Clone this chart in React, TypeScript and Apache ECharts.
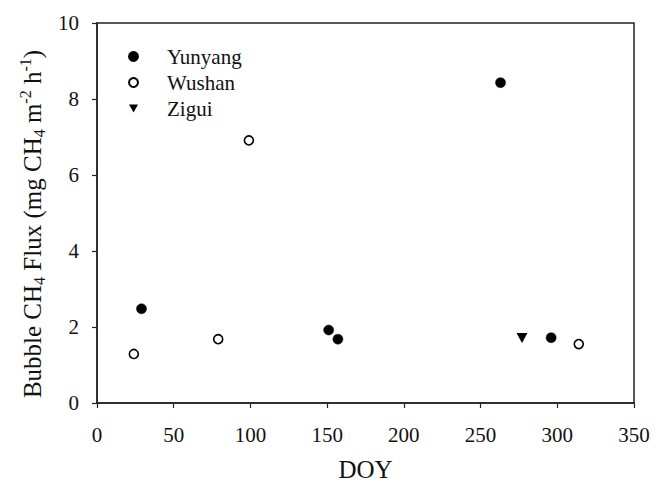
import React, { useEffect, useRef } from "react";
import * as echarts from "echarts";

const yunyangDOY = [29, 151, 157, 263, 296];
const yunyangFlux = [2.48, 1.92, 1.68, 8.43, 1.72];
const wushanDOY = [24, 79, 99, 314];
const wushanFlux = [1.29, 1.68, 6.91, 1.55];
const ziguiDOY = [277];
const ziguiFlux = [1.71];
const xTicks = [0, 50, 100, 150, 200, 250, 300, 350];
const yTicks = [0, 2, 4, 6, 8, 10];

const FONT = "'Liberation Serif', 'Times New Roman', serif";
const DOWN_TRI = "path://M0,0 L10,0 L5,9 Z";

export default function App() {
  const ref = useRef<HTMLDivElement>(null);
  useEffect(() => {
    if (!ref.current) return;
    const chart = echarts.init(ref.current, undefined, { renderer: "svg" });
    const pair = (xs: number[], ys: number[]) => xs.map((x, i) => [x, ys[i]]);
    chart.setOption({
      animation: false,
      backgroundColor: "#fff",
      grid: {
        left: 97,
        right: 29,
        top: 23,
        bottom: 78,
        show: true,
        borderColor: "#222",
        borderWidth: 1.5,
        backgroundColor: "transparent",
      },
      legend: {
        orient: "vertical",
        left: 123,
        top: 41,
        itemWidth: 9,
        itemHeight: 9,
        itemGap: 5,
        textStyle: {
          fontFamily: FONT,
          fontSize: 21,
          color: "#111",
          padding: [0, 0, 0, 24],
          lineHeight: 21,
        },
        data: ["Yunyang", "Wushan", "Zigui"],
      },
      xAxis: {
        type: "value",
        min: 0,
        max: 350,
        interval: 50,
        name: "DOY",
        nameLocation: "middle",
        nameGap: 54,
        nameTextStyle: { fontFamily: FONT, fontSize: 25, color: "#111" },
        axisLine: { show: true, lineStyle: { color: "#222", width: 1.5 } },
        axisTick: { show: true, inside: false, length: 5, lineStyle: { color: "#222", width: 1.2 } },
        axisLabel: {
          fontFamily: FONT,
          fontSize: 21,
          color: "#111",
          margin: 21,
          formatter: (v: number) => (xTicks.includes(v) ? String(v) : ""),
        },
        splitLine: { show: false },
      },
      yAxis: {
        type: "value",
        min: 0,
        max: 10,
        interval: 2,
        name:
          "{a|Bubble CH}{sub|4}{a| Flux (mg CH}{sub|4}{a| m}{sup|-2}{a| h}{sup|-1}{a|)}",
        nameLocation: "middle",
        nameGap: 49,
        nameTextStyle: {
          fontFamily: FONT,
          fontSize: 25,
          color: "#111",
          padding: [0, 22, 0, 0],
          rich: {
            a: { fontFamily: FONT, fontSize: 25, color: "#111", lineHeight: 30, verticalAlign: "middle" },
            sub: { fontFamily: FONT, fontSize: 16, color: "#111", lineHeight: 30, verticalAlign: "bottom" },
            sup: { fontFamily: FONT, fontSize: 16, color: "#111", lineHeight: 30, verticalAlign: "top" },
          },
        },
        axisLine: { show: true, lineStyle: { color: "#222", width: 1.5 } },
        axisTick: { show: true, inside: false, length: 5, lineStyle: { color: "#222", width: 1.2 } },
        axisLabel: {
          fontFamily: FONT,
          fontSize: 21,
          color: "#111",
          margin: 18,
          formatter: (v: number) => (yTicks.includes(v) ? String(v) : ""),
        },
        splitLine: { show: false },
      },
      series: [
        {
          name: "Yunyang",
          type: "scatter",
          symbol: "circle",
          symbolSize: 10,
          itemStyle: { color: "#000", borderColor: "#000", borderWidth: 0.5, opacity: 1 },
          data: pair(yunyangDOY, yunyangFlux),
        },
        {
          name: "Wushan",
          type: "scatter",
          symbol: "circle",
          symbolSize: 9,
          itemStyle: { color: "#fff", borderColor: "#000", borderWidth: 1.6, opacity: 1 },
          data: pair(wushanDOY, wushanFlux),
        },
        {
          name: "Zigui",
          type: "scatter",
          symbol: DOWN_TRI,
          symbolSize: [11, 10],
          itemStyle: { color: "#000", opacity: 1 },
          data: pair(ziguiDOY, ziguiFlux),
        },
      ],
    });
    return () => chart.dispose();
  }, []);
  return (
    <div
      ref={ref}
      style={{ position: "absolute", left: 0, top: 0, width: 663, height: 487, background: "#fff" }}
    />
  );
}
